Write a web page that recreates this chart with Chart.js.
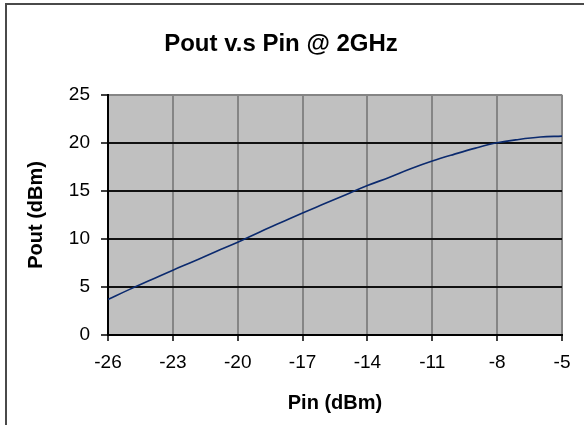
<!DOCTYPE html>
<html><head><meta charset="utf-8">
<script src="https://cdn.jsdelivr.net/npm/chart.js@4"></script>
<style>
html,body{margin:0;padding:0;background:#fff;}
#wrap{position:relative;width:584px;height:425px;overflow:hidden;}
#frame{position:absolute;left:5px;top:3px;width:600px;height:440px;border-left:2px solid #4a4a4a;border-top:2px solid #4a4a4a;pointer-events:none;}
canvas{display:block;}
</style></head>
<body><div id="wrap"><canvas id="c" width="584" height="425"></canvas><div id="frame"></div></div>
<script>
const pinValues = [-26,-25,-24,-23,-22,-21,-20,-19,-18,-17,-16,-15,-14,-13,-12,-11,-10,-9,-8,-7,-6,-5];
const poutValues = [3.7,4.75,5.75,6.75,7.7,8.7,9.65,10.7,11.7,12.7,13.65,14.6,15.55,16.4,17.3,18.1,18.8,19.45,20.0,20.35,20.6,20.7];
const xTicks = [-26,-23,-20,-17,-14,-11,-8,-5];
const yTicks = [0,5,10,15,20,25];

const FONT = "'Liberation Sans', Arial, sans-serif";

const plotBg = {
  id: 'plotBg',
  beforeDraw(chart) {
    const {ctx, chartArea: a} = chart;
    ctx.save();
    ctx.fillStyle = '#c0c0c0';
    ctx.fillRect(a.left, a.top, a.right - a.left, a.bottom - a.top);
    ctx.restore();
  }
};

new Chart(document.getElementById('c'), {
  type: 'line',
  data: {
    datasets: [{
      data: pinValues.map((x, i) => ({x: x, y: poutValues[i]})),
      borderColor: '#0b2a6e',
      borderWidth: 1.6,
      pointRadius: 0,
      fill: false,
      tension: 0.4
    }]
  },
  options: {
    responsive: false,
    animation: false,
    devicePixelRatio: 1,
    layout: {padding: {left: 0, right: 22, top: 0, bottom: 0}},
    plugins: {
      legend: {display: false},
      tooltip: {enabled: false},
      title: {
        display: true,
        text: 'Pout v.s Pin @ 2GHz',
        color: '#000',
        font: {family: FONT, size: 24, weight: 'bold'},
        padding: {top: 30, bottom: 36}
      }
    },
    scales: {
      x: {
        type: 'linear',
        min: xTicks[0],
        max: xTicks[xTicks.length - 1],
        afterBuildTicks: s => { s.ticks = xTicks.map(v => ({value: v})); },
        afterFit: s => { s.height = 90; },
        border: {color: '#000', width: 2},
        grid: {
          color: c => (c.tick && c.tick.value === xTicks[0]) ? 'rgba(0,0,0,0)' : '#858585',
          lineWidth: 2,
          tickColor: '#000',
          tickLength: 6,
          tickWidth: 1.5
        },
        ticks: {
          color: '#000',
          font: {family: FONT, size: 19},
          padding: 10,
          maxRotation: 0,
          autoSkip: false
        },
        title: {
          display: true,
          text: 'Pin (dBm)',
          color: '#000',
          font: {family: FONT, size: 20, weight: 'bold'},
          padding: {top: 0, bottom: 10}
        }
      },
      y: {
        min: yTicks[0],
        max: yTicks[yTicks.length - 1],
        afterBuildTicks: s => { s.ticks = yTicks.map(v => ({value: v})); },
        afterFit: s => { s.width = 108; },
        border: {color: '#000', width: 2},
        grid: {
          color: c => {
            if (!c.tick) return '#000';
            if (c.tick.value === yTicks[yTicks.length - 1]) return '#858585';
            if (c.tick.value === yTicks[0]) return 'rgba(0,0,0,0)';
            return '#111';
          },
          lineWidth: 2,
          tickColor: '#000',
          tickLength: 7,
          tickWidth: 1.5
        },
        ticks: {
          color: '#000',
          font: {family: FONT, size: 19},
          padding: 11
        },
        title: {
          display: true,
          text: 'Pout (dBm)',
          color: '#000',
          font: {family: FONT, size: 20, weight: 'bold'},
          padding: {top: 24, bottom: 0}
        }
      }
    }
  },
  plugins: [plotBg]
});
</script>
</body></html>
